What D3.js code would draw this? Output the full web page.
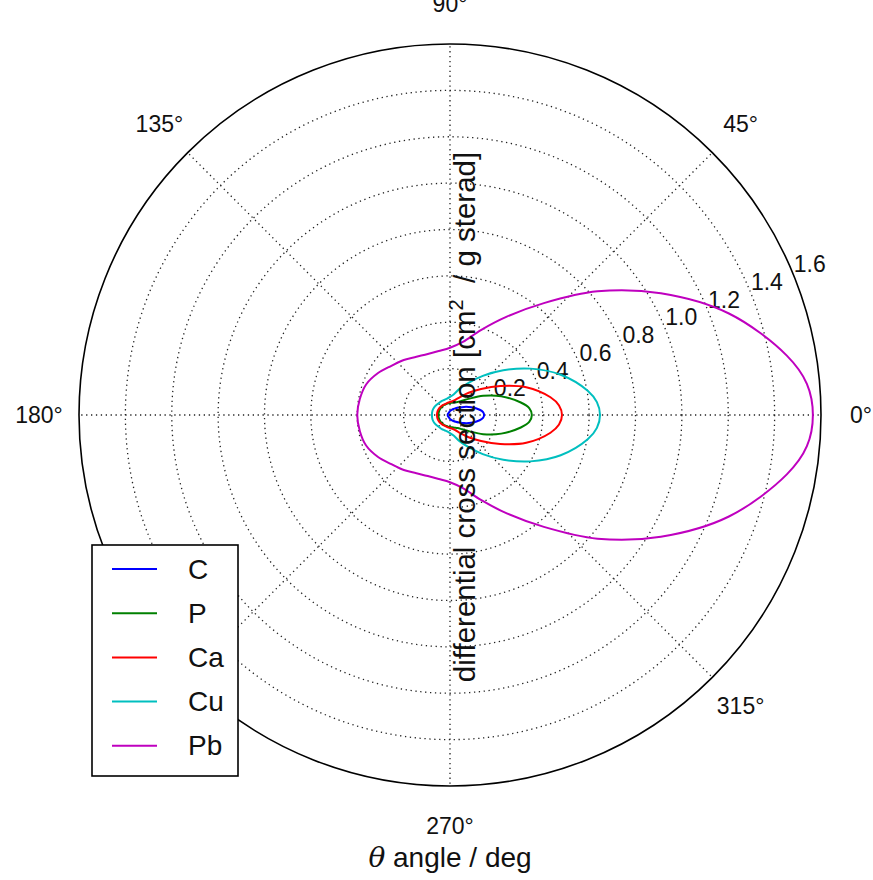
<!DOCTYPE html>
<html>
<head>
<meta charset="utf-8">
<script src="https://cdn.jsdelivr.net/npm/d3@7"></script>
<style>
  body { margin: 0; background: #fff; }
  svg { display: block; font-family: "Liberation Sans", Arial, sans-serif; }
</style>
</head>
<body>
<svg id="chart"></svg>
<script>
// scattering angle (deg), curves are symmetric about 0 deg
const angles = [0, 5, 10, 20, 30, 40, 50, 60, 70, 80, 90, 100, 110, 120, 130, 140, 150, 160, 170, 180]

const C  = [0.147, 0.143, 0.13, 0.098, 0.07, 0.05, 0.038, 0.03, 0.024, 0.02, 0.017, 0.014, 0.012, 0.011, 0.01, 0.01, 0.01, 0.01, 0.01, 0.01]
const P  = [0.353, 0.343, 0.31, 0.235, 0.165, 0.11, 0.08, 0.065, 0.058, 0.054, 0.052, 0.051, 0.05, 0.05, 0.05, 0.05, 0.05, 0.05, 0.05, 0.05]
const Ca = [0.483, 0.472, 0.44, 0.35, 0.25, 0.175, 0.125, 0.09, 0.07, 0.06, 0.056, 0.054, 0.052, 0.052, 0.053, 0.054, 0.055, 0.056, 0.056, 0.056]
const Cu = [0.647, 0.636, 0.603, 0.508, 0.4, 0.3, 0.22, 0.16, 0.12, 0.09, 0.078, 0.072, 0.07, 0.07, 0.07, 0.072, 0.075, 0.077, 0.078, 0.078]
const Pb = [1.565, 1.545, 1.475, 1.28, 1.05, 0.83, 0.63, 0.49, 0.39, 0.32, 0.29, 0.28, 0.28, 0.29, 0.31, 0.33, 0.36, 0.385, 0.395, 0.4]

const seriesNames = ["C", "P", "Ca", "Cu", "Pb"]
const seriesValues = [C, P, Ca, Cu, Pb]
const seriesColors = ["#0000ff", "#008000", "#ff0000", "#00bfbf", "#bf00bf"]

const rTicks = [0.2, 0.4, 0.6, 0.8, 1.0, 1.2, 1.4, 1.6]
const thetaTicks = [0, 45, 90, 135, 180, 225, 270, 315]

const width = 873, height = 880
const cx = 450, cy = 415, R = 371

const svg = d3.select("#chart").attr("width", width).attr("height", height)

const r = d3.scaleLinear().domain([0, 1.6]).range([0, R])
const toRad = d => (90 - d) * Math.PI / 180   // d3 radial angle from polar theta

const g = svg.append("g").attr("transform", "translate(" + cx + "," + cy + ")")

// grid
g.selectAll(".ring")
  .data(rTicks.slice(0, -1))
  .enter().append("circle")
  .attr("r", d => r(d))
  .attr("fill", "none")
  .attr("stroke", "#222")
  .attr("stroke-width", 1.3)
  .attr("stroke-dasharray", "1.3,3.6")

g.selectAll(".spoke")
  .data(thetaTicks)
  .enter().append("line")
  .attr("x1", 0).attr("y1", 0)
  .attr("x2", d => r(1.6) * Math.cos(d * Math.PI / 180))
  .attr("y2", d => -r(1.6) * Math.sin(d * Math.PI / 180))
  .attr("stroke", "#222")
  .attr("stroke-width", 1.3)
  .attr("stroke-dasharray", "1.3,3.6")

g.append("circle")
  .attr("r", R)
  .attr("fill", "none")
  .attr("stroke", "#000")
  .attr("stroke-width", 1.6)

// radial tick labels at 22.5 deg
const la = 22.5 * Math.PI / 180
g.selectAll(".rlab")
  .data(rTicks)
  .enter().append("text")
  .attr("x", d => r(d) * Math.cos(la) + 1)
  .attr("y", d => -r(d) * Math.sin(la) - 1)
  .attr("font-size", 23)
  .attr("fill", "#111")
  .text(d => d3.format(".1f")(d))

// angle labels
g.selectAll(".tlab")
  .data(thetaTicks)
  .enter().append("text")
  .attr("x", d => 411 * Math.cos(d * Math.PI / 180))
  .attr("y", d => -411 * Math.sin(d * Math.PI / 180))
  .attr("text-anchor", "middle")
  .attr("dominant-baseline", "central")
  .attr("font-size", 23)
  .attr("fill", "#111")
  .text(d => d + "°")

// curves
const line = d3.lineRadial()
  .angle(d => toRad(d[0]))
  .radius(d => r(d[1]))
  .curve(d3.curveCatmullRomClosed)

seriesValues.forEach(function (vals, i) {
  let pts = angles.map((a, j) => [a, vals[j]])
  for (let j = angles.length - 2; j > 0; j--) pts.push([360 - angles[j], vals[j]])
  g.append("path")
    .datum(pts)
    .attr("d", line)
    .attr("fill", "none")
    .attr("stroke", seriesColors[i])
    .attr("stroke-width", 2)
})

// axis labels
const ylab = svg.append("text")
  .attr("transform", "translate(475,417) rotate(-90)")
  .attr("text-anchor", "middle")
  .attr("font-size", 29.5)
  .attr("fill", "#111")
ylab.append("tspan").text("differential cross section [cm")
ylab.append("tspan").attr("dy", -12).attr("font-size", 20).text("2")
ylab.append("tspan").attr("dy", 12).text("\u00a0\u00a0/ g sterad]")

const xlab = svg.append("text")
  .attr("x", 450).attr("y", 867)
  .attr("text-anchor", "middle")
  .attr("font-size", 28)
  .attr("fill", "#111")
xlab.append("tspan").attr("font-family", "'DejaVu Serif', serif").attr("font-style", "italic").text("θ")
xlab.append("tspan").text(" angle / deg")

// legend
const leg = svg.append("g").attr("transform", "translate(92,545)")
leg.append("rect")
  .attr("width", 146).attr("height", 231)
  .attr("fill", "#fff")
  .attr("stroke", "#000")
  .attr("stroke-width", 1.6)

const item = leg.selectAll(".item")
  .data(seriesNames)
  .enter().append("g")
  .attr("transform", (d, i) => "translate(0," + (24 + i * 44.2) + ")")

item.append("line")
  .attr("x1", 20).attr("x2", 65)
  .attr("stroke", (d, i) => seriesColors[i])
  .attr("stroke-width", 2)

item.append("text")
  .attr("x", 96)
  .attr("dominant-baseline", "central")
  .attr("font-size", 28)
  .attr("fill", "#111")
  .text(d => d)
</script>
</body>
</html>
